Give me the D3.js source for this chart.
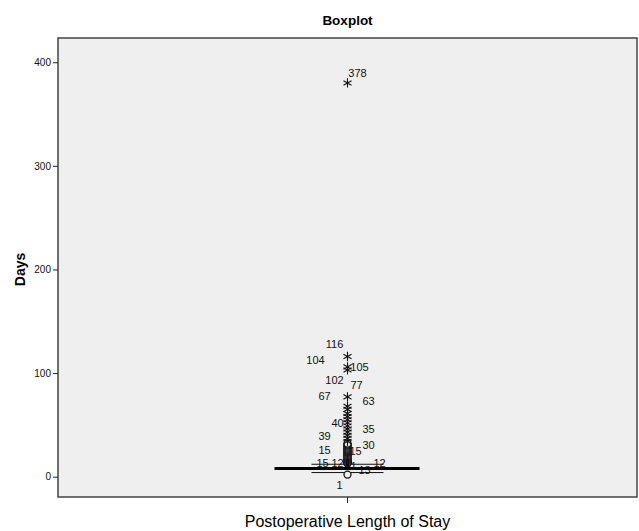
<!DOCTYPE html>
<html>
<head>
<meta charset="utf-8">
<script src="https://cdn.jsdelivr.net/npm/d3@7"></script>
<style>
  body { margin: 0; background: #fff; }
  text { font-family: "Liberation Sans", Arial, sans-serif; }
</style>
</head>
<body>
<script>
// chart values
var category = "Postoperative Length of Stay";
var yTicks = [0, 100, 200, 300, 400];
// box summary: lower whisker, median, upper whisker
var boxStats = { low: 4, median: 8, high: 12 };
// outliers drawn as open circles
var outliers = [2, 13, 13, 14, 14, 15, 15, 16, 17, 18, 19, 20, 21, 22, 23, 24, 25, 26, 27, 28, 29, 30, 31, 32];
// extremes drawn as stars
var extremes = [34, 37, 40, 43, 46, 49, 52, 55, 58, 61, 65, 68, 77, 103, 106, 116, 380];
// case labels and the level they sit at
var labelText  = ["378", "116", "104", "105", "102", "77", "67", "63", "40", "35", "39", "30", "15", "15", "15", "12", "1", "12", "13", "1"];
var labelLevel = [389.7, 128.1, 112.6, 105.9, 93.3, 88.5, 77.9, 73.1, 51.8, 46, 39.3, 30.6, 25.8, 24.8, 13.2, 13.2, 10.3, 13.2, 6.5, -8];
// horizontal offset of each label from the box centre (px)
var labelDx    = [10, -13, -32, 12, -13, 9, -23, 21, -10, 21, -23, 21, -23, 8, -25, -10, 6, 32, 17, -8];

var W = 639, H = 531;
var margin = {top: 38, right: 2, bottom: 34, left: 58};

var svg = d3.select("body").append("svg")
    .attr("width", W)
    .attr("height", H);

var x = d3.scaleBand()
    .domain([category])
    .range([margin.left, W - margin.right]);
var cx = x(category) + x.bandwidth() / 2;

var y = d3.scaleLinear()
    .domain([-19.6, 423.4])
    .range([H - margin.bottom, margin.top]);

// plot frame
svg.append("rect")
    .attr("x", margin.left)
    .attr("y", margin.top)
    .attr("width", W - margin.left - margin.right)
    .attr("height", H - margin.top - margin.bottom)
    .attr("fill", "#efefef")
    .attr("stroke", "#444")
    .attr("stroke-width", 1.5);

// y axis
var yAxis = svg.append("g")
    .attr("transform", "translate(" + margin.left + ",0)")
    .call(d3.axisLeft(y).tickValues(yTicks).tickSize(5).tickPadding(2));
yAxis.select(".domain").remove();
yAxis.selectAll("line").attr("stroke", "#222");
yAxis.selectAll("text")
    .style("font-family", "Liberation Sans, Arial, sans-serif")
    .style("font-size", "10px")
    .attr("fill", "#111");

// x axis
var xAxis = svg.append("g")
    .attr("transform", "translate(0," + (H - margin.bottom) + ")")
    .call(d3.axisBottom(x).tickSize(6).tickFormat(""));
xAxis.select(".domain").remove();
xAxis.selectAll("line").attr("stroke", "#222");

// titles
svg.append("text")
    .attr("x", cx)
    .attr("y", 25)
    .attr("text-anchor", "middle")
    .style("font-size", "13.5px")
    .style("font-weight", "bold")
    .text("Boxplot");

svg.append("text")
    .attr("x", cx)
    .attr("y", 527)
    .attr("text-anchor", "middle")
    .style("font-size", "16px")
    .text(category);

svg.append("text")
    .attr("transform", "translate(25," + y(200) + ") rotate(-90)")
    .attr("text-anchor", "middle")
    .style("font-size", "14px")
    .style("font-weight", "bold")
    .text("Days");

// whisker lines
[boxStats.low, boxStats.high].forEach(function(v) {
  svg.append("line")
      .attr("x1", cx - 36).attr("x2", cx + 36)
      .attr("y1", y(v)).attr("y2", y(v))
      .attr("stroke", "#111")
      .attr("stroke-width", 1);
});

// outlier circles
svg.selectAll(".outlier")
    .data(outliers)
    .enter().append("circle")
    .attr("class", "outlier")
    .attr("cx", cx)
    .attr("cy", function(d) { return y(d); })
    .attr("r", 3.5)
    .attr("fill", "#efefef")
    .attr("stroke", "#111")
    .attr("stroke-width", 1.3);

// median line
svg.append("line")
    .attr("x1", cx - 73).attr("x2", cx + 72)
    .attr("y1", y(boxStats.median)).attr("y2", y(boxStats.median))
    .attr("stroke", "#000")
    .attr("stroke-width", 3);

// extreme stars
var star = d3.symbol().type(d3.symbolAsterisk).size(60);
svg.selectAll(".extreme")
    .data(extremes)
    .enter().append("path")
    .attr("class", "extreme")
    .attr("d", star)
    .attr("transform", function(d) { return "translate(" + cx + "," + y(d) + ")"; })
    .attr("fill", "none")
    .attr("stroke", "#111")
    .attr("stroke-width", 1.1);

// case labels
svg.selectAll(".caselabel")
    .data(labelText)
    .enter().append("text")
    .attr("class", "caselabel")
    .attr("x", function(d, i) { return cx + labelDx[i]; })
    .attr("y", function(d, i) { return y(labelLevel[i]); })
    .attr("dy", "0.35em")
    .attr("text-anchor", "middle")
    .style("font-size", "11px")
    .attr("fill", "#111")
    .text(function(d) { return d; });
</script>
</body>
</html>
